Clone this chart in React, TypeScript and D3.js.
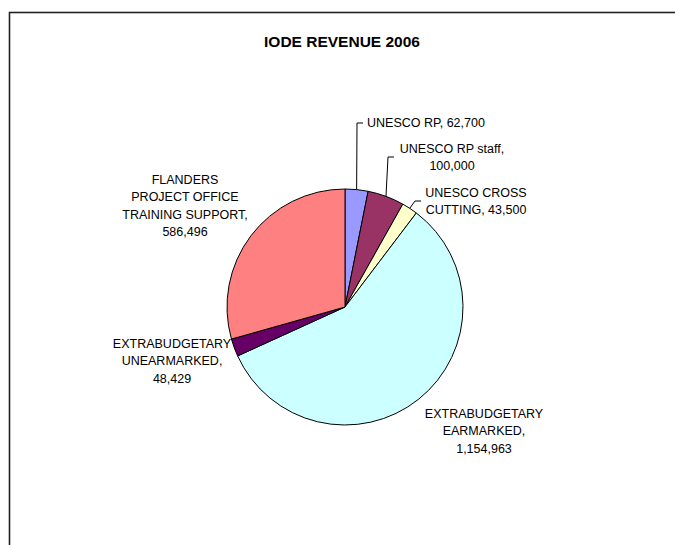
import { useEffect, useRef } from 'react';
import * as d3 from 'd3';

// IODE revenue 2006, slices in clockwise order from 12 o'clock
const CATEGORIES = [
  'UNESCO RP',
  'UNESCO RP staff',
  'UNESCO CROSS CUTTING',
  'EXTRABUDGETARY EARMARKED',
  'EXTRABUDGETARY UNEARMARKED',
  'FLANDERS PROJECT OFFICE TRAINING SUPPORT',
];
const VALUES = [62700, 100000, 43500, 1154963, 48429, 586496];
const COLORS = ['#9999FF', '#993366', '#FFFFCC', '#CCFFFF', '#660066', '#FF8080'];

// label text lines as printed on the chart
const LABEL_LINES: string[][] = [
  ['UNESCO RP, 62,700'],
  ['UNESCO RP staff,', '100,000'],
  ['UNESCO CROSS', 'CUTTING, 43,500'],
  ['EXTRABUDGETARY', 'EARMARKED,', '1,154,963'],
  ['EXTRABUDGETARY', 'UNEARMARKED,', '48,429'],
  ['FLANDERS', 'PROJECT OFFICE', 'TRAINING SUPPORT,', '586,496'],
];

type Row = { label: string; value: number; color: string; lines: string[] };

// where each label block sits (x, first baseline, anchor) and optional leader elbow
const LAYOUT = [
  { x: 367, y: 127, anchor: 'start', elbow: [357, 123], end: [363, 123] },
  { x: 452, y: 152.5, anchor: 'middle', elbow: [388, 157], end: [394, 157] },
  { x: 476, y: 197, anchor: 'middle', elbow: [415, 201], end: [421, 201] },
  { x: 484, y: 418, anchor: 'middle', elbow: null, end: null },
  { x: 172, y: 348, anchor: 'middle', elbow: null, end: null },
  { x: 185, y: 184, anchor: 'middle', elbow: null, end: null },
];

const FONT = '"Liberation Sans", Arial, sans-serif';

export default function App() {
  const svgRef = useRef<SVGSVGElement>(null);

  useEffect(() => {
    if (!svgRef.current) return;
    const width = 675;
    const height = 545;
    const cx = 345;
    const cy = 307;
    const radius = 118;
    const lineH = 17.3;

    const rows: Row[] = CATEGORIES.map((c, i) => ({
      label: c,
      value: VALUES[i],
      color: COLORS[i],
      lines: LABEL_LINES[i],
    }));

    const svg = d3.select(svgRef.current);
    svg.selectAll('*').remove();
    svg.attr('width', width).attr('height', height);

    svg.append('rect').attr('width', width).attr('height', height).attr('fill', '#fff');

    // chart area frame (runs off the right and bottom of the page)
    svg.append('rect')
      .attr('x', 9.5).attr('y', 12.5)
      .attr('width', 700).attr('height', 600)
      .attr('fill', 'none')
      .attr('stroke', '#222')
      .attr('stroke-width', 1.6);

    svg.append('text')
      .attr('x', 342).attr('y', 47)
      .attr('text-anchor', 'middle')
      .attr('font-family', FONT)
      .attr('font-size', 15.5)
      .attr('font-weight', 'bold')
      .text('IODE REVENUE 2006');

    const pie = d3.pie<Row>().value((d) => d.value).sort(null);
    const arcs = pie(rows);
    const arc = d3.arc<d3.PieArcDatum<Row>>().innerRadius(0).outerRadius(radius);
    const edge = d3.arc<d3.PieArcDatum<Row>>().innerRadius(radius).outerRadius(radius);

    const g = svg.append('g').attr('transform', `translate(${cx},${cy})`);
    g.selectAll('path')
      .data(arcs)
      .join('path')
      .attr('d', arc)
      .attr('fill', (d) => d.data.color)
      .attr('stroke', '#000')
      .attr('stroke-width', 1);

    // leader lines
    arcs.forEach((d, i) => {
      const l = LAYOUT[i];
      if (!l.elbow || !l.end) return;
      const [mx, my] = edge.centroid(d);
      svg.append('polyline')
        .attr('points', `${cx + mx},${cy + my} ${l.elbow[0]},${l.elbow[1]} ${l.end[0]},${l.end[1]}`)
        .attr('fill', 'none')
        .attr('stroke', '#000')
        .attr('stroke-width', 1);
    });

    // data labels
    rows.forEach((r, i) => {
      const l = LAYOUT[i];
      const t = svg.append('text')
        .attr('font-family', FONT)
        .attr('font-size', 12.5)
        .attr('fill', '#000')
        .attr('text-anchor', l.anchor);
      r.lines.forEach((line, j) => {
        t.append('tspan').attr('x', l.x).attr('y', l.y + j * lineH).text(line);
      });
    });
  }, []);

  return (
    <svg ref={svgRef} style={{ position: 'absolute', left: 0, top: 0, display: 'block' }} />
  );
}
